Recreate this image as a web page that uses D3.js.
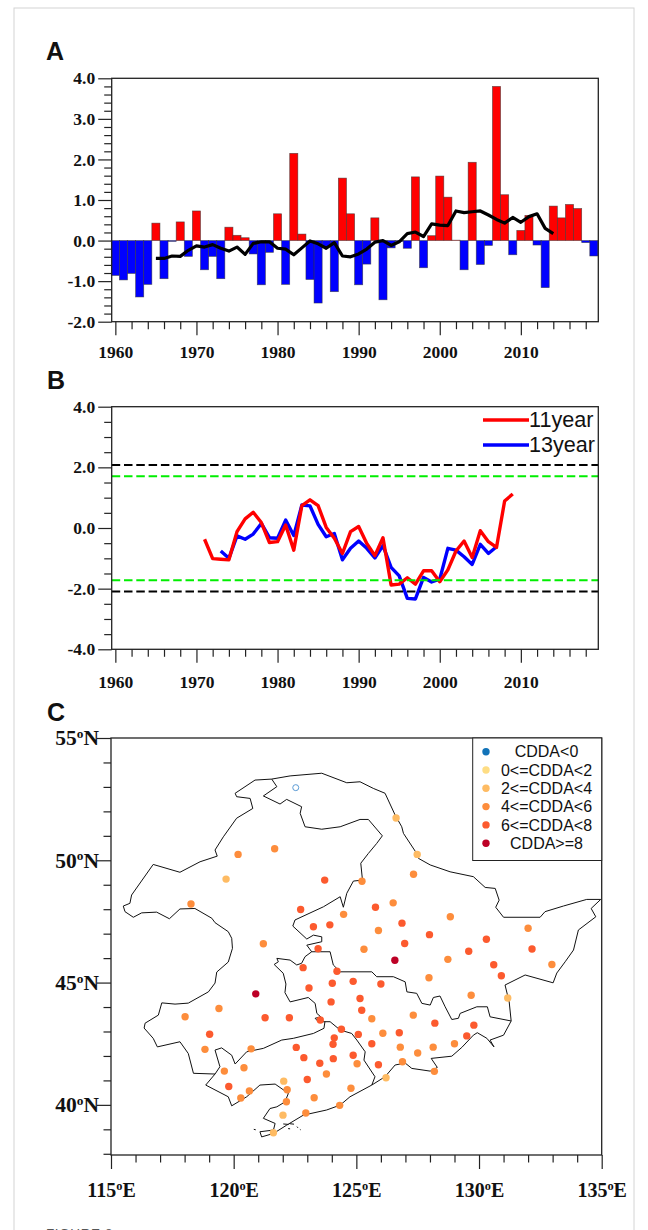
<!DOCTYPE html>
<html>
<head>
<meta charset="utf-8">
<script src="https://cdnjs.cloudflare.com/ajax/libs/d3/7.8.5/d3.min.js"></script>
<style>
  html, body { margin: 0; padding: 0; background: #fff; overflow: hidden; }
  svg { display: block; }
  .tick text { font-family: "Liberation Serif", serif; font-weight: bold; fill: #111; }
  .tick line { stroke: #222; stroke-width: 1.2; }
  .letter { font-family: "Liberation Sans", sans-serif; font-weight: bold; font-size: 25px; fill: #111; }
  .sans { font-family: "Liberation Sans", sans-serif; fill: #111; }
</style>
</head>
<body>
<svg id="chart" width="648" height="1230"></svg>
<script>
// panel A, yearly anomaly
var barYears = d3.range(1960, 2020)
var barValues = [-0.86,-0.97,-0.81,-1.39,-1.08,0.43,-0.94,-0.02,0.46,-0.39,
  0.73,-0.72,-0.39,-0.94,0.33,0.13,0.07,-0.33,-1.09,-0.29,
  0.66,-1.08,2.15,0.16,-0.96,-1.54,-0.15,-1.26,1.54,0.66,
  -1.09,-0.58,0.56,-1.46,-0.18,-0.02,-0.19,1.57,-0.67,0.12,
  1.59,1.07,0.01,-0.72,1.93,-0.59,-0.12,3.80,1.13,-0.35,
  0.25,0.62,-0.11,-1.16,0.85,0.56,0.89,0.79,-0.05,-0.38]

// 11 year running mean, 1965-2014
var meanStart = 1965
var meanValues = [-0.44,-0.44,-0.38,-0.39,-0.24,-0.13,-0.16,-0.10,-0.19,-0.26,
  -0.16,-0.34,-0.07,-0.03,-0.03,-0.19,-0.21,-0.35,-0.18,-0.01,
  -0.08,-0.19,-0.05,-0.38,-0.40,-0.33,-0.21,-0.04,0.00,-0.12,
  -0.03,0.17,0.21,0.10,0.41,0.38,0.37,0.73,0.69,0.71,
  0.73,0.63,0.52,0.43,0.57,0.45,0.59,0.66,0.30,0.17]

// panel B, sliding t test
var redStart = 1971
var redValues = [-0.37,-1.01,-1.03,-1.05,-0.12,0.30,0.52,0.18,-0.48,-0.45,
  0.10,-0.73,0.74,0.93,0.74,0.02,-0.34,-0.84,-0.12,0.05,
  -0.51,-0.91,-0.32,-1.88,-1.85,-1.64,-1.85,-1.41,-1.41,-1.77,
  -1.38,-0.76,-0.43,-0.97,-0.09,-0.45,-0.64,0.89,1.12]
var blueStart = 1973
var blueValues = [-0.76,-1.00,-0.26,-0.37,-0.20,0.15,-0.32,-0.34,0.26,-0.25,
  0.76,0.73,0.12,-0.29,-0.18,-1.05,-0.67,-0.43,-0.67,-0.99,
  -0.58,-1.30,-1.58,-2.32,-2.34,-1.63,-1.78,-1.69,-0.67,-0.73,
  -0.95,-1.20,-0.54,-0.84,-0.62]
var blackLevels = [2.08, -2.09]
var greenLevels = [1.71, -1.72]
var seriesNames = ["11year", "13year"]

// panel C, boundaries as [lon, lat]
var outerLine = [[115.50,48.13],[115.57,47.90],[115.91,47.67],[116.25,47.85],[116.86,47.88],[117.38,47.61],[117.81,48.01],[118.42,48.03],[119.11,47.63],[119.24,47.45],[119.78,47.08],[119.92,46.81],[119.95,46.40],[119.78,45.84],[119.31,45.43],[119.24,44.98],[118.97,44.62],[118.15,44.16],[117.61,44.12],[117.07,44.17],[116.93,43.67],[116.39,43.34],[116.35,43.14],[116.72,42.72],[116.89,42.37],[117.81,42.58],[118.15,42.10],[118.36,41.29],[119.24,41.26],[118.86,40.81],[119.78,40.33],[119.92,39.96],[120.53,40.33],[121.07,40.81],[121.69,40.85],[122.23,40.47],[122.09,40.12],[121.76,39.92],[121.48,39.85],[121.21,39.45],[121.69,39.24],[121.62,38.97],[121.07,38.90],[121.14,38.69],[121.62,38.83],[122.16,39.17],[122.84,39.58],[123.79,39.79],[124.34,39.99],[124.74,40.33],[125.63,40.81],[126.17,41.15],[126.58,41.63],[126.99,41.71],[127.26,41.49],[128.01,41.38],[128.30,41.53],[128.05,41.90],[128.89,41.99],[129.30,42.35],[129.77,42.85],[129.93,42.95],[130.32,42.72],[130.61,42.37],[130.45,42.65],[131.00,42.85],[131.31,43.43],[131.23,44.21],[131.06,44.90],[131.88,45.31],[133.02,44.99],[133.17,45.39],[133.51,45.85],[133.85,46.33],[134.05,47.15],[134.76,47.69],[134.57,48.03],[134.96,48.40],[134.39,48.40],[133.44,48.13],[132.69,47.90],[132.49,47.67],[131.00,47.67],[130.68,48.08],[130.82,48.37],[130.66,48.85],[130.25,48.89],[129.77,49.33],[128.82,49.53],[128.01,49.81],[127.53,50.08],[127.46,50.28],[126.92,51.10],[126.85,51.37],[126.58,51.85],[126.17,52.74],[125.69,52.94],[125.15,53.21],[124.61,53.17],[123.59,53.56],[122.30,53.45],[121.55,53.32],[120.87,53.28],[120.06,52.74],[120.12,52.60],[120.67,52.53],[120.78,52.12],[120.12,51.72],[119.58,50.96],[119.24,50.42],[119.33,50.17],[118.63,49.94],[117.81,49.51],[116.72,49.83],[115.84,48.58],[115.77,48.24],[115.50,48.13]]
var northLine = [[121.55,53.32],[121.76,53.01],[121.21,52.63],[121.89,52.30],[122.16,52.49],[122.77,52.19],[122.71,51.92],[122.91,51.37],[123.59,51.27],[124.34,51.37],[125.15,51.67],[125.49,51.67],[126.06,51.00],[125.83,50.69],[125.49,50.28],[125.18,49.88],[125.25,49.19],[124.88,49.15],[124.61,48.65],[124.47,48.08],[124.34,48.51],[123.66,48.10],[122.50,47.56],[122.41,47.31],[122.98,46.78],[123.25,46.94],[123.59,46.87],[123.59,46.67],[122.98,46.53],[123.18,46.26]]
var hljLine = [[123.18,46.26],[123.93,46.26],[124.06,45.72],[124.34,45.44],[125.63,45.44],[125.83,45.24],[126.51,45.24],[126.99,45.03],[127.06,44.62],[127.46,44.56],[127.67,44.15],[128.01,44.08],[128.14,44.39],[128.41,44.45],[128.62,44.01],[128.89,43.49],[129.16,43.54],[129.23,43.74],[129.91,44.01],[130.34,44.01],[130.45,43.60],[131.31,43.43]]
var jilinWestLine = [[123.18,46.26],[122.91,46.06],[122.77,45.79],[122.57,45.72],[122.30,45.92],[121.76,45.99],[121.82,45.85],[121.65,45.74],[122.02,45.38],[122.13,44.94],[122.09,44.59],[122.30,44.21],[123.04,44.39],[123.32,44.15],[123.39,43.74],[123.55,43.60],[123.32,43.54],[123.45,43.40],[123.72,43.40]]
var liaoningWestLine = [[123.72,43.40],[123.68,43.13],[123.25,42.92],[122.43,42.72],[121.96,42.65],[121.21,42.31],[120.53,42.17],[120.06,41.67],[119.92,42.03],[119.51,42.33],[119.24,42.24],[119.44,41.56],[119.24,41.26]]
var liaoningEastLine = [[123.72,43.40],[123.93,43.40],[124.34,43.06],[124.81,42.92],[125.02,42.65],[125.36,42.17],[125.31,41.83],[125.76,41.15],[125.63,40.81]]
var islandLines = [[[122.02,39.22],[122.24,39.20]],[[122.28,39.23],[122.46,39.21]],[[122.22,39.03],[122.30,39.02]],[[122.58,39.11],[122.62,39.06]],[[122.70,39.00],[122.73,38.98]],[[120.82,39.00],[120.90,38.98]]]

// stations as [lon, lat, class]
var stations = [[122.53,52.97,0],[121.67,50.47,3],[120.18,50.24,3],[119.69,49.23,2],[123.71,49.19,4],[118.26,48.21,3],[122.73,47.99,4],[124.48,47.79,3],[123.25,47.28,4],[123.92,47.36,4],[121.21,46.59,3],[123.44,46.38,4],[122.83,45.61,4],[124.21,45.46,4],[123.07,44.78,4],[124.02,44.97,4],[124.87,45.05,4],[126.62,51.73,2],[127.48,50.24,2],[127.33,49.43,3],[125.23,49.14,3],[125.78,48.08,4],[126.50,48.26,3],[128.83,47.69,3],[132.00,47.22,3],[126.86,47.43,4],[125.90,47.13,3],[127.98,46.96,4],[130.30,46.77,4],[126.97,46.60,4],[132.16,46.37,4],[125.31,46.36,3],[129.58,46.28,4],[128.73,45.95,3],[126.57,45.91,5],[130.60,45.73,4],[132.97,45.74,3],[130.91,45.28,4],[127.96,45.20,3],[126.00,44.94,4],[129.68,44.48,3],[131.17,44.37,2],[123.97,44.21,4],[125.15,44.35,4],[125.22,43.87,4],[125.63,43.52,3],[127.32,43.67,3],[128.20,43.34,4],[129.79,43.26,4],[125.08,42.88,4],[126.08,42.93,3],[126.75,42.95,4],[129.50,42.82,4],[125.63,42.50,4],[126.79,42.36,3],[128.13,42.36,3],[129.00,42.50,3],[127.50,42.12,3],[124.87,42.03,4],[125.03,41.68,3],[125.90,41.64,4],[126.88,41.76,3],[128.18,41.37,3],[126.21,41.11,2],[124.78,40.68,3],[120.90,44.54,5],[119.40,43.94,3],[118.02,43.60,3],[121.28,43.56,4],[122.27,43.56,4],[123.53,43.47,4],[124.39,43.09,4],[119.02,42.89,4],[124.10,42.74,4],[124.05,42.48,4],[122.55,42.35,4],[120.71,42.29,3],[118.83,42.27,3],[122.86,41.93,4],[124.06,41.89,4],[123.51,41.70,4],[119.62,41.38,3],[120.42,41.52,3],[123.78,41.26,3],[123.00,41.04,4],[122.04,40.97,2],[119.80,40.75,4],[122.18,40.62,3],[120.64,40.57,3],[120.29,40.28,3],[123.28,40.29,3],[122.15,40.13,3],[124.32,39.98,3],[122.01,39.58,2],[122.94,39.67,3],[121.62,38.86,2]]
var classNames = ["CDDA<0", "0<=CDDA<2", "2<=CDDA<4", "4<=CDDA<6", "6<=CDDA<8", "CDDA>=8"]
var classColors = ["#1273b8", "#fedd84", "#febb63", "#fd8d3c", "#fc5a2e", "#bd0026"]

var svg = d3.select("#chart")

// page frame and the cut off caption
svg.append("rect").attr("x", 14).attr("y", 8).attr("width", 620).attr("height", 1240)
  .attr("fill", "none").attr("stroke", "#d4d4d4").attr("stroke-width", 1)
svg.append("text").attr("x", 46).attr("y", 1238).attr("font-size", 13.5)
  .attr("font-family", "Liberation Sans").attr("fill", "#555").attr("letter-spacing", 0.6).text("FIGURE 8")

// same year axis for A and B
var xYear = d3.scaleLinear().domain([1959.55, 2019.55]).range([111.7, 598.3])

function drawAxes(g, x, y, o) {
  var bottom = d3.max(y.range()), top = d3.min(y.range())
  // minor ticks first, major on top
  g.append("g").attr("transform", "translate(0," + bottom + ")")
    .call(d3.axisBottom(x).tickValues(o.xMinor).tickSize(o.minorLen).tickFormat(""))
    .call(a => a.select(".domain").remove())
  g.append("g").attr("transform", "translate(" + x.range()[0] + ",0)")
    .call(d3.axisLeft(y).tickValues(o.yMinor).tickSize(o.minorLen).tickFormat(""))
    .call(a => a.select(".domain").remove())
  var xa = g.append("g").attr("transform", "translate(0," + bottom + ")")
    .call(d3.axisBottom(x).tickValues(o.xMajor).tickSize(o.majorLen).tickPadding(o.xPad).tickFormat(o.xFormat))
    .call(a => a.select(".domain").remove())
  var ya = g.append("g").attr("transform", "translate(" + x.range()[0] + ",0)")
    .call(d3.axisLeft(y).tickValues(o.yMajor).tickSize(o.majorLen).tickPadding(o.yPad).tickFormat(o.yFormat))
    .call(a => a.select(".domain").remove())
  xa.selectAll("text").style("font-size", o.fontSize + "px")
  ya.selectAll("text").style("font-size", (o.yFontSize || o.fontSize) + "px")
  g.append("rect").attr("x", x.range()[0]).attr("y", top)
    .attr("width", x.range()[1] - x.range()[0]).attr("height", bottom - top)
    .attr("fill", "none").attr("stroke", "#222").attr("stroke-width", 1.3)
  return {xa: xa, ya: ya}
}

var yearMinor = d3.range(1960, 2020, 2).filter(d => d % 10 != 0)
var yearMajor = [1960, 1970, 1980, 1990, 2000, 2010]
// plain hyphen on the negative labels, as in the figure
var f1 = d => d.toFixed(1)

// ---- A ----
var yA = d3.scaleLinear().domain([-2, 4]).range([321.7, 78.3])
var gA = svg.append("g")
gA.append("text").attr("class", "letter").attr("x", 46).attr("y", 60).text("A")

gA.selectAll(".bar").data(barValues).enter().append("rect")
  .attr("x", (d, i) => xYear(barYears[i] - 0.5))
  .attr("width", xYear(1) - xYear(0))
  .attr("y", d => yA(Math.max(d, 0)))
  .attr("height", d => Math.abs(yA(d) - yA(0)))
  .attr("fill", d => d >= 0 ? "#ff0000" : "#0000ff")
  .attr("stroke", "#333").attr("stroke-opacity", 0.7).attr("stroke-width", 0.7)

var lineA = d3.line().x((d, i) => xYear(meanStart + i)).y(d => yA(d))
gA.append("path").attr("d", lineA(meanValues)).attr("fill", "none")
  .attr("stroke", "#000").attr("stroke-width", 3.2).attr("stroke-linejoin", "round")

drawAxes(gA, xYear, yA, {
  xMinor: yearMinor, xMajor: yearMajor, xFormat: d3.format("d"), xPad: 10,
  yMinor: d3.range(-2, 4.01, 0.2).filter(d => Math.abs(d - Math.round(d)) > 0.01),
  yMajor: [-2, -1, 0, 1, 2, 3, 4], yFormat: f1, yPad: 3,
  minorLen: 7.5, majorLen: 13.5, fontSize: 17.5
})

// ---- B ----
var yB = d3.scaleLinear().domain([-4, 4]).range([649.3, 406.7])
var gB = svg.append("g")
gB.append("text").attr("class", "letter").attr("x", 47).attr("y", 389).text("B")

var lineBlue = d3.line().x((d, i) => xYear(blueStart + i)).y(d => yB(d))
var lineRed = d3.line().x((d, i) => xYear(redStart + i)).y(d => yB(d))
gB.append("path").attr("d", lineBlue(blueValues)).attr("fill", "none")
  .attr("stroke", "#0000ff").attr("stroke-width", 3.4).attr("stroke-linejoin", "round")
gB.append("path").attr("d", lineRed(redValues)).attr("fill", "none")
  .attr("stroke", "#ff0000").attr("stroke-width", 3.4).attr("stroke-linejoin", "round")

function levelLines(levels, color) {
  gB.selectAll(null).data(levels).enter().append("line")
    .attr("x1", xYear.range()[0]).attr("x2", xYear.range()[1])
    .attr("y1", d => yB(d)).attr("y2", d => yB(d))
    .attr("stroke", color).attr("stroke-width", 2).attr("stroke-dasharray", "8.5 3.8")
}
levelLines(blackLevels, "#000")
levelLines(greenLevels, "#00ee00")

drawAxes(gB, xYear, yB, {
  xMinor: yearMinor, xMajor: yearMajor, xFormat: d3.format("d"), xPad: 13,
  yMinor: d3.range(-4, 4.01, 0.5).filter(d => d % 2 != 0),
  yMajor: [-4, -2, 0, 2, 4], yFormat: f1, yPad: 3,
  minorLen: 7.5, majorLen: 13.5, fontSize: 17.5
})

// legend of B
var legendB = gB.selectAll(".leg").data(seriesNames).enter().append("g")
  .attr("transform", (d, i) => "translate(483," + (420 + i * 25) + ")")
legendB.append("line").attr("x2", 46).attr("stroke-width", 3.4)
  .attr("stroke", (d, i) => i == 0 ? "#ff0000" : "#0000ff")
legendB.append("text").attr("class", "sans").attr("x", 46).attr("y", 6.7).attr("font-size", 21.6).text(d => d)

// ---- C ----
var xLon = d3.scaleLinear().domain([115, 135]).range([111, 601.7])
var yLat = d3.scaleLinear().domain([55, 37.95]).range([738, 1155])
var gC = svg.append("g")
gC.append("text").attr("class", "letter").attr("x", 47).attr("y", 721).text("C")

var lineMap = d3.line().x(d => xLon(d[0])).y(d => yLat(d[1]))
var boundaries = [outerLine, northLine, hljLine, jilinWestLine, liaoningWestLine, liaoningEastLine].concat(islandLines)
gC.selectAll(".boundary").data(boundaries).enter().append("path")
  .attr("d", lineMap).attr("fill", "none")
  .attr("stroke", "#111").attr("stroke-width", 1).attr("stroke-linejoin", "round")

gC.selectAll(".station").data(stations).enter().append("circle")
  .attr("cx", d => xLon(d[0])).attr("cy", d => yLat(d[1])).attr("r", d => d[2] == 0 ? 3 : 3.7)
  .attr("fill", d => d[2] == 0 ? "none" : classColors[d[2]])
  .attr("stroke", d => d[2] == 0 ? "#5b9bd5" : "none")
  .attr("stroke-width", 1)

// degree labels with the small raised o
function degLabel(sel, suffix) {
  sel.each(function(d) {
    var t = d3.select(this).text(null)
    t.append("tspan").text(d)
    t.append("tspan").attr("font-size", "0.62em").attr("dy", "-0.55em").text("o")
    t.append("tspan").attr("dy", "0.34em").text(suffix)
  })
}
var axC = drawAxes(gC, xLon, yLat, {
  xMinor: d3.range(115, 136).filter(d => d % 5 != 0), xMajor: [115, 120, 125, 130, 135], xFormat: d3.format("d"), xPad: 14,
  yMinor: d3.range(38, 56).filter(d => d % 5 != 0), yMajor: [40, 45, 50, 55], yFormat: d3.format("d"), yPad: -2,
  minorLen: 7.5, majorLen: 14, fontSize: 20, yFontSize: 21.5
})
axC.xa.selectAll("text").call(degLabel, "E")
axC.ya.selectAll("text").call(degLabel, "N")

// legend of C
var legW = 129, legX = 601.7 - legW
gC.append("rect").attr("x", legX).attr("y", 738).attr("width", legW).attr("height", 122.5)
  .attr("fill", "#fff").attr("stroke", "#222").attr("stroke-width", 1)
var legendC = gC.selectAll(".legc").data(classNames).enter().append("g")
  .attr("transform", (d, i) => "translate(0," + (751.7 + i * 18.3) + ")")
legendC.append("circle").attr("cx", 486).attr("r", 3.7).attr("fill", (d, i) => classColors[i])
legendC.append("text").attr("class", "sans").attr("x", 546.5).attr("y", 5.6)
  .attr("text-anchor", "middle").attr("font-size", 16).text(d => d)
</script>
</body>
</html>
